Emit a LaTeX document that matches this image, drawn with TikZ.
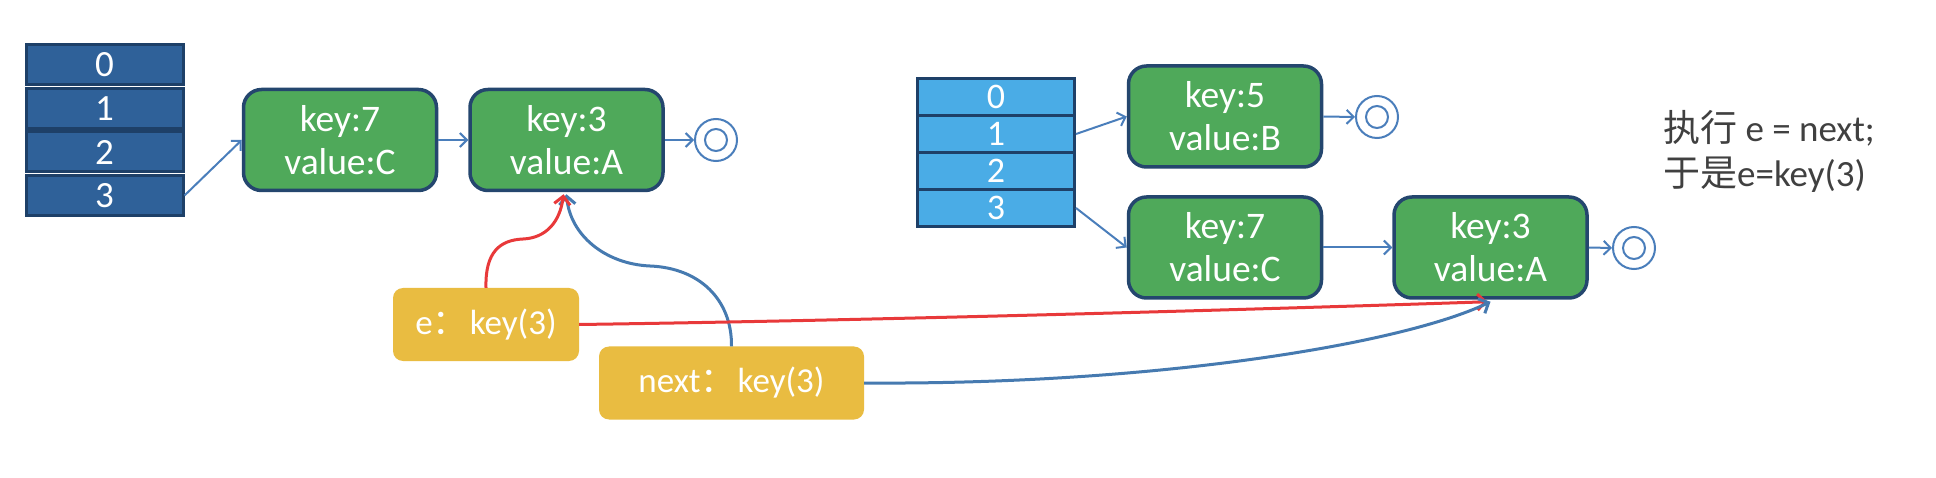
\documentclass[tikz,border=0pt]{standalone}
\usepackage{fontspec}
\setmainfont{Carlito}
\newfontfamily\cjk{Noto Sans CJK SC}
\usetikzlibrary{arrows.meta}
\definecolor{gfill}{RGB}{79,169,90}
\definecolor{gborder}{RGB}{36,70,110}
\definecolor{darkcell}{RGB}{47,97,153}
\definecolor{darkline}{RGB}{30,64,104}
\definecolor{lightcell}{RGB}{74,172,230}
\definecolor{lightline}{RGB}{30,64,104}
\definecolor{ylw}{RGB}{233,188,65}
\definecolor{steel}{RGB}{74,126,187}
\definecolor{redc}{RGB}{232,57,58}
\definecolor{bluec}{RGB}{70,122,176}
\definecolor{notec}{RGB}{64,64,64}
\tikzset{
  gnode/.style={draw=gborder, line width=3.5pt, fill=gfill, rounded corners=18pt,
    minimum width=193pt, minimum height=101pt, align=center, text=white,
    font=\fontsize{37.5}{43}\selectfont, inner sep=0pt},
  ynode/.style={fill=ylw, rounded corners=10pt, minimum height=73pt, text=white,
    font=\fontsize{35}{40}\selectfont, inner sep=0pt},
  lcell/.style={draw=darkline, line width=3pt, fill=darkcell, minimum width=157pt,
    minimum height=40pt, text=white, font=\fontsize{37}{40}\selectfont, inner sep=0pt},
  rcell/.style={draw=lightline, line width=3pt, fill=lightcell, minimum width=157pt,
    minimum height=37pt, text=white, font=\fontsize{36}{38}\selectfont, inner sep=0pt},
  nul/.style={circle, draw=steel, line width=2pt, minimum size=42pt, inner sep=0pt},
  link/.style={draw=steel, line width=2pt, -{Straight Barb[length=7pt,width=14pt]}},
  redarrow/.style={draw=redc, line width=3pt, -{Straight Barb[length=8pt,width=16pt]}},
  bluearrow/.style={draw=bluec, line width=3pt, -{Straight Barb[length=8pt,width=16pt]}},
  note/.style={anchor=base west, text=notec, font=\fontsize{37}{45}\selectfont, inner sep=0pt}
}
\begin{document}
\begin{tikzpicture}[x=1pt,y=-1pt]
\useasboundingbox (0,0) rectangle (1936,478);
\fill[white] (0,0) rectangle (1936,478);

% left array
\node[lcell] (L0) at (104.5,65) {0};
\node[lcell] (L1) at (104.5,108.5) {1};
\node[lcell] (L2) at (104.5,152) {2};
\node[lcell] (L3) at (104.5,195.5) {3};

\node[gnode] (k7) at (340,140) {key:7\\value:C};
\node[gnode] (k3) at (566.5,140) {key:3\\value:A};
\node[nul] (c1) at (716,140) {};
\draw[steel, line width=2pt] (c1.center) circle[radius=11pt];

\draw[link] (L3.east) -- (k7.west);
\draw[link] (k7.east) -- (k3.west);
\draw[link] (k3.east) -- (c1.west);

% right array
\node[rcell] (R0) at (996,97) {0};
\node[rcell] (R1) at (996,134) {1};
\node[rcell] (R2) at (996,171) {2};
\node[rcell] (R3) at (996,208) {3};

\node[gnode] (r5) at (1225,116.5) {key:5\\value:B};
\node[gnode] (r7) at (1225,247.5) {key:7\\value:C};
\node[gnode] (rk3) at (1490.5,247.5) {key:3\\value:A};
\node[nul] (c2) at (1377,117) {};
\draw[steel, line width=2pt] (c2.center) circle[radius=11pt];
\node[nul] (c3) at (1634,248) {};
\draw[steel, line width=2pt] (c3.center) circle[radius=11pt];

\draw[link] (R1.east) -- (r5.west);
\draw[link] (R3.east) -- (r7.west);
\draw[link] (r5.east) -- (c2.west);
\draw[link] (r7.east) -- (rk3.west);
\draw[link] (rk3.east) -- (c3.west);

% pointer boxes
\node[ynode, minimum width=186pt] (e) at (486,324.5) {e{\cjk ：}\hspace{2pt}key(3)};
\node[ynode, minimum width=265pt] (nx) at (731.5,383) {next{\cjk ：}\hspace{2pt}key(3)};

% curves
\draw[bluearrow] (nx.north) .. controls (732,300) and (700,268) .. (650,266)
   .. controls (605,264) and (570,235) .. ([yshift=-2pt]k3.south);
\draw[redarrow] (e.north) .. controls (485,252) and (500,240) .. (523,239)
   .. controls (546,238) and (560,222) .. ([xshift=-3pt,yshift=-2pt]k3.south);
\draw[redarrow] (e.east) .. controls (900,320) and (1300,308) .. ([xshift=-3pt,yshift=-2pt]rk3.south);
\draw[bluearrow] (nx.east) .. controls (1150,385) and (1400,345) .. ([yshift=-2pt]rk3.south);

% note
\node[note] (n1) at (1663,142) {{\cjk 执行} e = next;};
\node[note] (n2) at (1663,187) {{\cjk 于是}e=key(3)};
\end{tikzpicture}
\end{document}
